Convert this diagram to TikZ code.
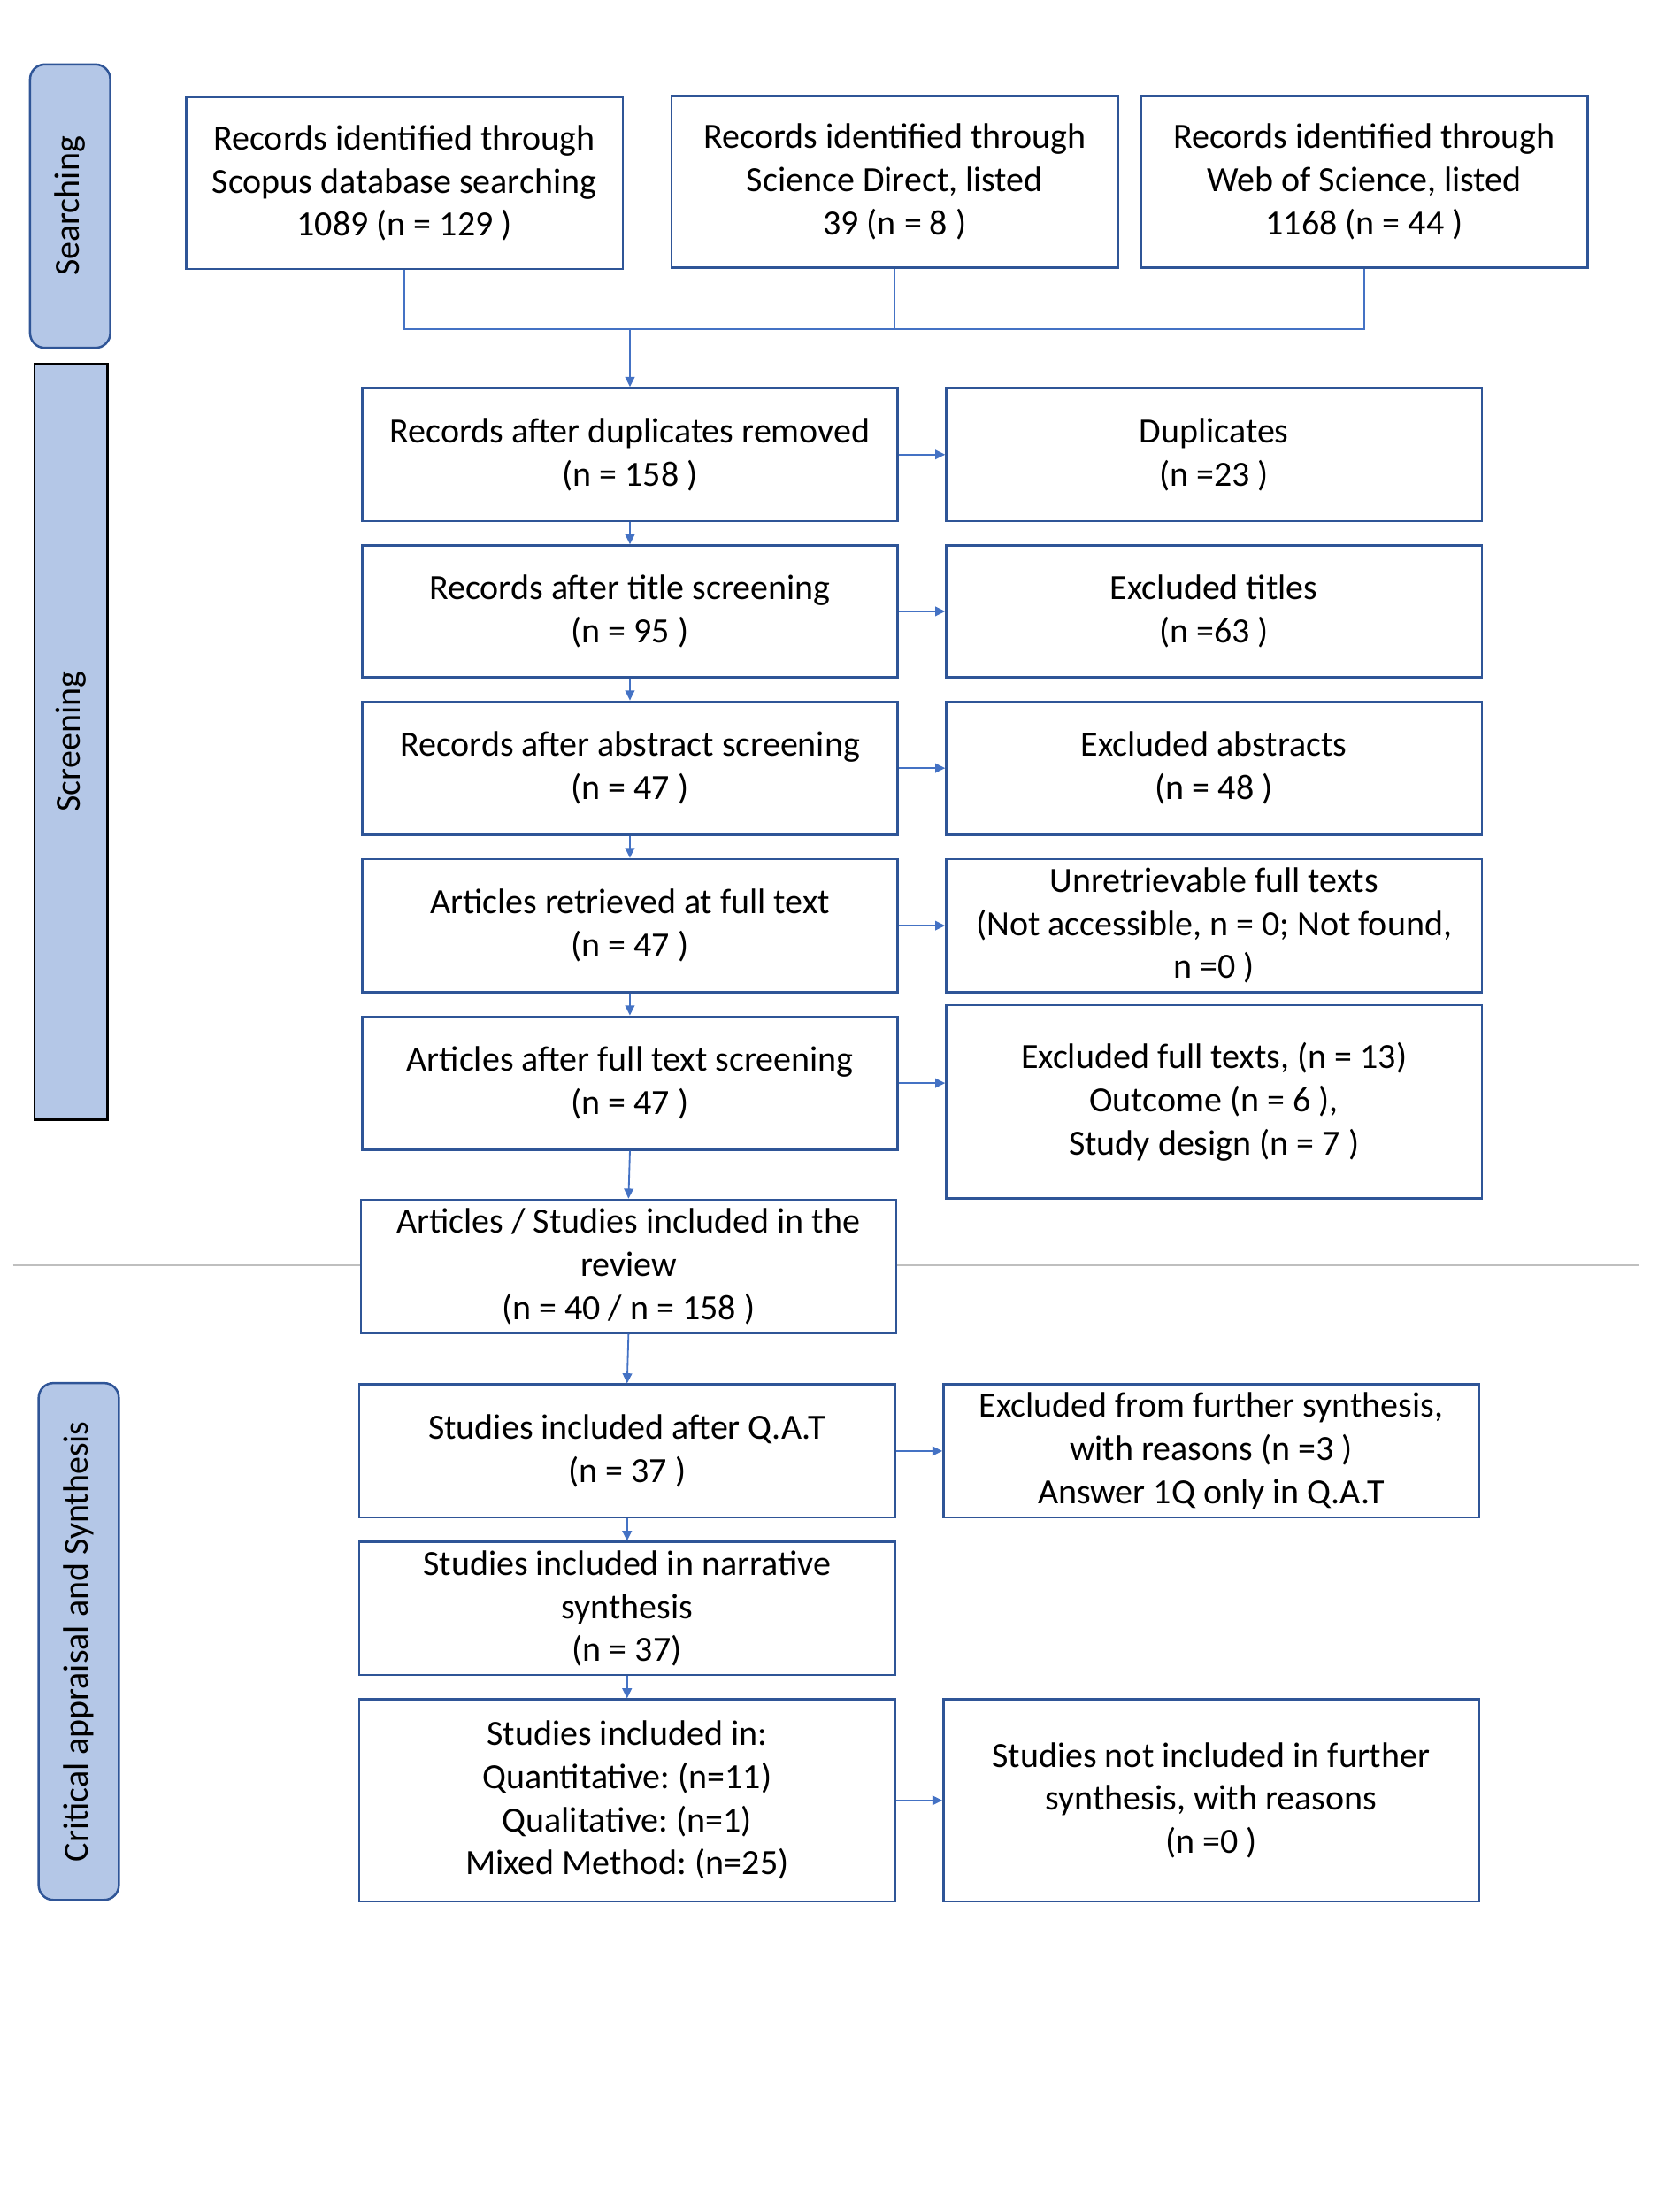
\documentclass[tikz,border=0pt]{standalone}
\usepackage{fontspec}
\setmainfont{Carlito}
\frenchspacing
\usetikzlibrary{arrows.meta}
\definecolor{boxblue}{HTML}{2F5597}
\definecolor{arrblue}{HTML}{4472C4}
\definecolor{barfill}{HTML}{B4C7E7}
\definecolor{rule}{HTML}{BFBFBF}
\def\u{0.4855pt}
\begin{document}
\begin{tikzpicture}[x=\u,y=-\u,
  font=\fontsize{12}{14.6}\selectfont,
  box/.style 2 args={draw=boxblue,line width=0.75pt,fill=white,align=center,inner sep=1pt,
     minimum width=#1*\u,minimum height=#2*\u},
  bar/.style 2 args={fill=barfill,line width=0.75pt,minimum width=#1*\u,minimum height=#2*\u,inner sep=0pt},
  conn/.style={draw=arrblue,line width=0.55pt},
  arr/.style={conn,-{Triangle[length=3.4pt,width=3.2pt]}}]
\useasboundingbox (0,0) rectangle (1158,1545);
% horizontal rule
\coordinate (hl) at (9,884);
\coordinate (hr) at (1145,884);
\draw[rule,line width=0.6pt] (hl) -- (hr);
% side bars
\node[bar={56}{198},draw=boxblue,rounded corners=5pt] (s1) at (49,144) {};
\node[rotate=90] at (s1) {Searching};
\node[bar={51}{528},draw=black] (s2) at (49.5,518) {};
\node[rotate=90] at (s2) {Screening};
\node[bar={56}{361},draw=boxblue,rounded corners=5pt] (s3) at (55,1146.5) {};
\node[rotate=90] at (s3) {Critical appraisal and Synthesis};
% top boxes
\node[box={305}{120}] (b1) at (282.5,128) {Records identified through\\Scopus database searching\\1089 (n = 129 )};
\node[box={312}{120}] (b2) at (625,127) {Records identified through\\Science Direct, listed\\39 (n = 8 )};
\node[box={312}{120}] (b3) at (953,127) {Records identified through\\Web of Science, listed\\1168 (n = 44 )};
% left column
\node[box={374}{93}] (r1) at (440,317.5) {Records after duplicates removed\\(n = 158 )};
\node[box={374}{92}] (r2) at (440,427) {Records after title screening\\(n = 95 )};
\node[box={374}{93}] (r3) at (440,536.5) {Records after abstract screening\\(n = 47 )};
\node[box={374}{93}] (r4) at (440,646.5) {Articles retrieved at full text\\(n = 47 )};
\node[box={374}{93}] (r5) at (440,756.5) {Articles after full text screening\\(n = 47 )};
\node[box={374}{93}] (r6) at (439,884.5) {Articles / Studies included in the\\review\\(n = 40 / n = 158 )};
% right column
\node[box={374}{93}] (d1) at (848,317.5) {Duplicates\\(n =23 )};
\node[box={374}{92}] (d2) at (848,427) {Excluded titles\\(n =63 )};
\node[box={374}{93}] (d3) at (848,536.5) {Excluded abstracts\\(n = 48 )};
\node[box={374}{93}] (d4) at (848,646.5) {Unretrievable full texts\\(Not accessible, n = 0; Not found,\\n =0 )};
\node[box={374}{135}] (d5) at (848,769.5) {Excluded full texts, (n = 13)\\Outcome (n = 6 ),\\Study design (n = 7 )};
% critical appraisal
\node[box={374}{93}] (c1) at (438,1013.5) {Studies included after Q.A.T\\(n = 37 )};
\node[box={374}{93}] (c2) at (438,1123.5) {Studies included in narrative\\synthesis\\(n = 37)};
\node[box={374}{141}] (c3) at (438,1257.5) {Studies included in:\\Quantitative: (n=11)\\Qualitative: (n=1)\\Mixed Method: (n=25)};
\node[box={374}{93}] (e1) at (846,1013.5) {Excluded from further synthesis,\\with reasons (n =3 )\\Answer 1Q only in Q.A.T};
\node[box={374}{141}] (e2) at (846,1257.5) {Studies not included in further\\synthesis, with reasons\\(n =0 )};
% connectors top
\coordinate (j) at (440,230);
\draw[conn] (b1.south) |- (j);
\draw[conn] (b2.south) |- (j);
\draw[conn] (b3.south) |- (j);
\draw[arr] (j) -- (r1.north);
% vertical arrows
\draw[arr] (r1.south) -- (r2.north);
\draw[arr] (r2.south) -- (r3.north);
\draw[arr] (r3.south) -- (r4.north);
\draw[arr] (r4.south) -- (r5.north);
\draw[arr] (r5.south) -- (r6.north);
\draw[arr] (r6.south) -- (c1.north);
\draw[arr] (c1.south) -- (c2.north);
\draw[arr] (c2.south) -- (c3.north);
% horizontal arrows
\draw[arr] (r1.east) -- (d1.west);
\draw[arr] (r2.east) -- (d2.west);
\draw[arr] (r3.east) -- (d3.west);
\draw[arr] (r4.east) -- (d4.west);
\draw[arr] (r5.east) -- (r5.east -| d5.west);
\draw[arr] (c1.east) -- (e1.west);
\draw[arr] (c3.east) -- (e2.west);
\end{tikzpicture}
\end{document}
